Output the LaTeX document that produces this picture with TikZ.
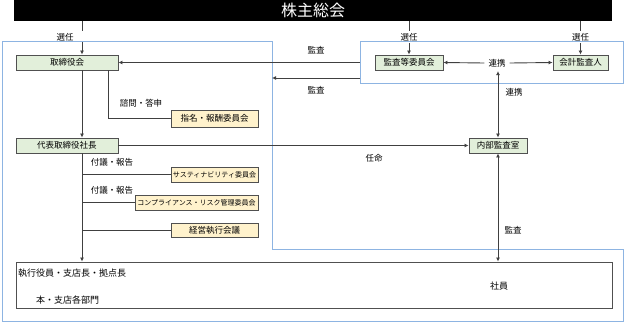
\documentclass[tikz,border=0pt]{standalone}
\usepackage{fontspec}
\setmainfont{Noto Sans CJK JP}
\usetikzlibrary{arrows.meta}
\definecolor{boxgreen}{HTML}{E2EFDA}
\definecolor{boxyellow}{HTML}{FFF2CC}
\definecolor{frameblue}{HTML}{8DB4E2}
\definecolor{linegray}{HTML}{404040}
\definecolor{edgegray}{HTML}{505050}
\tikzset{
  orgbox/.style={draw=edgegray, line width=0.9pt, inner sep=0pt, font=\fontsize{8.5}{9}\selectfont},
  greenbox/.style={orgbox, fill=boxgreen},
  yellowbox/.style={orgbox, fill=boxyellow},
  lbl/.style={inner sep=1pt, font=\fontsize{8.5}{9}\selectfont},
  conn/.style={draw=linegray, line width=0.9pt},
  arr/.style={conn, -{Latex[length=4pt,width=4pt]}},
  darr/.style={conn, {Latex[length=4pt,width=4pt]}-{Latex[length=4pt,width=4pt]}},
  frame/.style={draw=frameblue, line width=1pt},
}
\begin{document}
\begin{tikzpicture}[x=1pt,y=-1pt]
\useasboundingbox (0,0) rectangle (625,322);
% frames
\draw[frame] (2,41) -- (272,41) -- (272,249) -- (623,249) -- (623,321) -- (2,321) -- cycle;
\draw[frame] (360,41) rectangle (623,83);
% banner
\node[fill=black, minimum width=598pt, minimum height=21pt, inner sep=0pt, text=white, font=\fontsize{16}{16}\selectfont] (banner) at (313,10.5) {株主総会};
% boxes
\node[greenbox, minimum width=102pt, minimum height=15pt] (tori) at (67,62.5) {取締役会};
\node[yellowbox, minimum width=87pt, minimum height=17pt] (shimei) at (214.5,118.5) {指名・報酬委員会};
\node[greenbox, minimum width=102pt, minimum height=15pt] (daihyo) at (67,145.5) {代表取締役社長};
\node[greenbox, minimum width=58pt, minimum height=15pt] (naibu) at (498,145.5) {内部監査室};
\node[greenbox, minimum width=68pt, minimum height=15pt] (kansa) at (409,62.5) {監査等委員会};
\node[greenbox, minimum width=55pt, minimum height=15pt] (kaikei) at (580.5,62.5) {会計監査人};
\node[yellowbox, minimum width=87pt, minimum height=15pt, font=\fontsize{7}{8}\selectfont] (sustain) at (214.5,174.5) {サスティナビリティ委員会};
\node[yellowbox, minimum width=123pt, minimum height=15pt, font=\fontsize{7}{8}\selectfont] (compl) at (196.5,202.5) {コンプライアンス・リスク管理委員会};
\node[yellowbox, minimum width=87pt, minimum height=14pt] (keiei) at (214.5,230) {経営執行会議};
\node[orgbox, fill=white, minimum width=596pt, minimum height=46pt] (shikko) at (314,285) {};
\node[lbl, anchor=west, font=\fontsize{9}{9}\selectfont] (shikkotxt) at (17,273) {執行役員・支店長・拠点長};
\node[lbl, anchor=west, font=\fontsize{9}{9}\selectfont] (honten) at (35,300) {本・支店各部門};
\node[lbl, font=\fontsize{9}{9}\selectfont] (shain) at (499,286) {社員};
% labels
\node[lbl] (sen1) at (65,37) {選任};
\node[lbl] (sen2) at (409,37) {選任};
\node[lbl] (sen3) at (580.5,37) {選任};
\node[lbl] (shimon) at (141,103) {諮問・答申};
\node[lbl] (kansa1) at (316,50) {監査};
\node[lbl] (kansa2) at (316,90) {監査};
\node[lbl, inner sep=4pt] (renkei) at (497,63) {連携};
\node[lbl] (renkei2) at (514,92) {連携};
\node[lbl] (ninmei) at (374,158) {任命};
\node[lbl] (fugi1) at (112,162) {付議・報告};
\node[lbl] (fugi2) at (112,190) {付議・報告};
\node[lbl] (kansa3) at (513,230) {監査};
% coordinates
\coordinate (c1a) at (82,31);
\coordinate (c1b) at (82,42);
\coordinate (c2a) at (409,31);
\coordinate (c2b) at (409,43);
\coordinate (c3a) at (580.5,31);
\coordinate (c3b) at (580.5,43);
\coordinate (fr1) at (360,62.5);
\coordinate (fr2) at (360,78);
\coordinate (fr3) at (272,78);
\coordinate (bend) at (108,118.5);
\coordinate (b1) at (82,174.5);
\coordinate (b2) at (82,202.5);
\coordinate (b3) at (82,230);
% connectors
\draw[conn] (banner.south -| c1a) -- (c1a);
\draw[arr] (c1b) -- (tori.north -| c1b);
\draw[conn] (banner.south -| c2a) -- (c2a);
\draw[arr] (c2b) -- (kansa.north);
\draw[conn] (banner.south -| c3a) -- (c3a);
\draw[arr] (c3b) -- (kaikei.north);
\draw[arr] (tori.south -| c1a) -- (daihyo.north -| c1a);
\draw[conn] (tori.south -| bend) -- (bend) -- (shimei.west);
\draw[arr] (fr1) -- (tori.east);
\draw[arr] (fr2) -- (fr3);
\draw[arr] (renkei.west) -- (kansa.east);
\draw[arr] (renkei.east) -- (kaikei.west);
\draw[darr] (renkei.south -| naibu.north) -- (naibu.north);
\draw[arr] (daihyo.east) -- (naibu.west);
\draw[arr] (daihyo.south -| c1a) -- (shikko.north -| c1a);
\draw[conn] (b1) -- (sustain.west);
\draw[conn] (b2) -- (compl.west);
\draw[conn] (b3) -- (keiei.west);
\draw[darr] (naibu.south) -- (shikko.north -| naibu.south);
\end{tikzpicture}
\end{document}
